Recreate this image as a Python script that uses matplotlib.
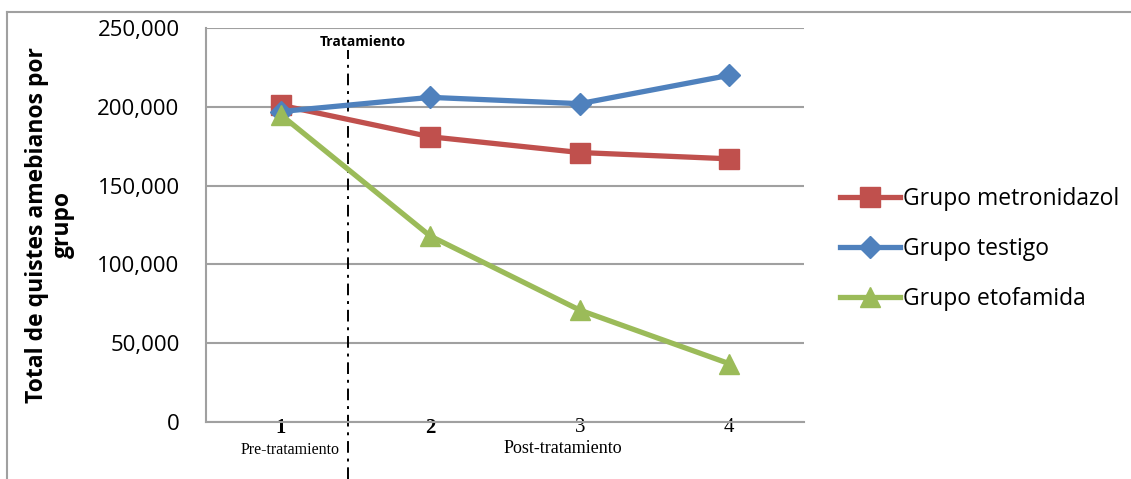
import matplotlib.pyplot as plt
from matplotlib.lines import Line2D
from matplotlib.ticker import FuncFormatter

# datos
semanas = [1, 2, 3, 4]
etiquetas_x = ['1', '2', '3', '4']
metronidazol = [201000, 181000, 171000, 167000]
testigo = [197000, 206000, 202000, 220000]
etofamida = [195000, 118000, 71000, 37000]
x_tratamiento = 1.45

rojo = '#C0504D'
azul = '#4F81BD'
verde = '#9BBB59'
gris = '#A0A0A0'

plt.rcParams['font.family'] = ['Open Sans', 'DejaVu Sans']

fig = plt.figure(figsize=(11.31, 4.79), dpi=100)
ax = fig.add_axes([0.1821, 0.119, 0.5288, 0.8225])

ax.plot(semanas, metronidazol, color=rojo, lw=3.8, marker='s', ms=14,
        label='Grupo metronidazol', zorder=3)
ax.plot(semanas, testigo, color=azul, lw=3.8, marker='D', ms=11,
        label='Grupo testigo', zorder=4)
ax.plot(semanas, etofamida, color=verde, lw=3.8, marker='^', ms=15,
        label='Grupo etofamida', zorder=5)

ax.set_xlim(0.5, 4.5)
ax.set_ylim(0, 250000)
ax.set_yticks(range(0, 250001, 50000))
ax.yaxis.set_major_formatter(FuncFormatter(lambda v, p: f'{int(v):,}'))
ax.grid(axis='y', color=gris, lw=1.5)
ax.set_axisbelow(True)

for s in ['top', 'right']:
    ax.spines[s].set_visible(False)
for s in ['left', 'bottom']:
    ax.spines[s].set_color(gris)
    ax.spines[s].set_linewidth(1.5)

ax.tick_params(axis='y', length=0, pad=19, labelsize=16)
ax.tick_params(axis='x', length=0, pad=-3)
ax.set_xticks(semanas)
ax.set_xticklabels(etiquetas_x, family='Liberation Serif', fontsize=15)
for i, t in enumerate(ax.get_xticklabels()):
    if i < 2:
        t.set_fontweight('bold')

# línea de tratamiento
ax.axvline(x_tratamiento, ymin=-0.145, ymax=0.944, clip_on=False,
           color='black', lw=1.4, dashes=(6, 3, 1.5, 3))
ax.text(x_tratamiento + 0.1, 0.965, 'Tratamiento', transform=ax.get_xaxis_transform(),
        ha='center', va='center', fontsize=10, fontweight='bold')

ax.text(1.06, -0.072, 'Pre-tratamiento', transform=ax.get_xaxis_transform(),
        ha='center', va='center', family='Liberation Serif', fontsize=11.5)
ax.text(2.89, -0.068, 'Post-tratamiento', transform=ax.get_xaxis_transform(),
        ha='center', va='center', family='Liberation Serif', fontsize=13)

fig.text(50 / 1131, 1 - 225 / 479, 'Total de quistes amebianos por\ngrupo',
         rotation=90, ha='center', va='center', fontsize=16.5, fontweight='bold',
         multialignment='center', linespacing=1.1)

ax.legend(loc='center left', bbox_to_anchor=(1.045, 0.439), frameon=False,
          fontsize=16.5, handlelength=2.6, handletextpad=0.15, labelspacing=1.15,
          borderaxespad=0)

# marco exterior del gráfico
fig.add_artist(Line2D([7 / 1131, 1], [1 - 12 / 479] * 2, color=gris, lw=1.5))
fig.add_artist(Line2D([7 / 1131] * 2, [0, 1 - 12 / 479], color=gris, lw=1.5))

fig.savefig('out.png', dpi=100)
